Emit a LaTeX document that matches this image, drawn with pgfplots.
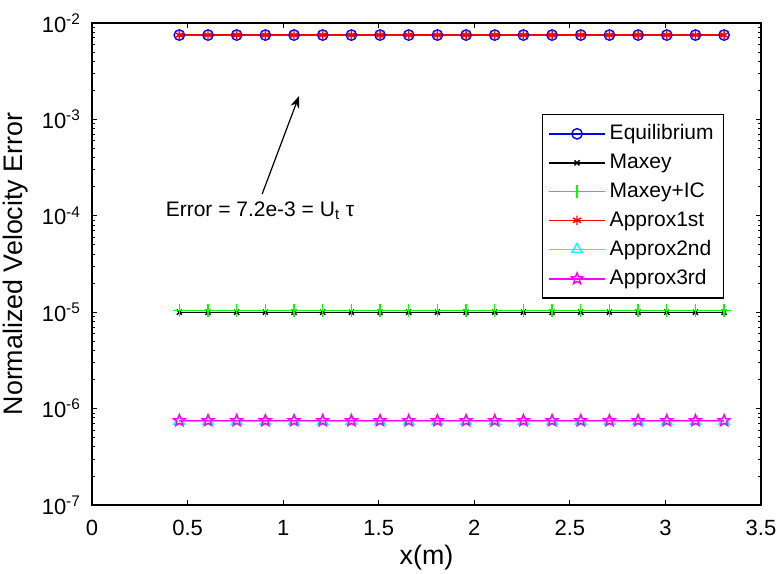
\documentclass[border=0pt]{standalone}
\usepackage{fontspec}
\setmainfont{Liberation Sans}
\usepackage{pgfplots}
\pgfplotsset{compat=1.18}
\usetikzlibrary{arrows.meta,plotmarks}

\definecolor{mblue}{rgb}{0,0,1}
\definecolor{mgreen}{rgb}{0,1,0}
\definecolor{mred}{rgb}{1,0,0}
\definecolor{mcyan}{rgb}{0,1,1}
\definecolor{mmagenta}{rgb}{1,0,1}

% outlined five-point star, like the MATLAB pentagram marker
\pgfdeclareplotmark{pentagram}{%
  \pgfpathmoveto{\pgfpointpolar{90}{\pgfplotmarksize}}%
  \pgfpathlineto{\pgfpointpolar{126}{0.42\pgfplotmarksize}}%
  \pgfpathlineto{\pgfpointpolar{162}{\pgfplotmarksize}}%
  \pgfpathlineto{\pgfpointpolar{198}{0.42\pgfplotmarksize}}%
  \pgfpathlineto{\pgfpointpolar{234}{\pgfplotmarksize}}%
  \pgfpathlineto{\pgfpointpolar{270}{0.42\pgfplotmarksize}}%
  \pgfpathlineto{\pgfpointpolar{306}{\pgfplotmarksize}}%
  \pgfpathlineto{\pgfpointpolar{342}{0.42\pgfplotmarksize}}%
  \pgfpathlineto{\pgfpointpolar{18}{\pgfplotmarksize}}%
  \pgfpathlineto{\pgfpointpolar{54}{0.42\pgfplotmarksize}}%
  \pgfpathclose
  \pgfusepathqstroke
}

\pgfplotstableread{
x      eq      mx      mxic    aone    atwo    athree
0.457  7.5e-3  1.0e-5  1.04e-5 7.5e-3  7.4e-7  7.5e-7
0.607  7.5e-3  1.0e-5  1.04e-5 7.5e-3  7.4e-7  7.5e-7
0.757  7.5e-3  1.0e-5  1.04e-5 7.5e-3  7.4e-7  7.5e-7
0.907  7.5e-3  1.0e-5  1.04e-5 7.5e-3  7.4e-7  7.5e-7
1.057  7.5e-3  1.0e-5  1.04e-5 7.5e-3  7.4e-7  7.5e-7
1.207  7.5e-3  1.0e-5  1.04e-5 7.5e-3  7.4e-7  7.5e-7
1.357  7.5e-3  1.0e-5  1.04e-5 7.5e-3  7.4e-7  7.5e-7
1.507  7.5e-3  1.0e-5  1.04e-5 7.5e-3  7.4e-7  7.5e-7
1.657  7.5e-3  1.0e-5  1.04e-5 7.5e-3  7.4e-7  7.5e-7
1.807  7.5e-3  1.0e-5  1.04e-5 7.5e-3  7.4e-7  7.5e-7
1.957  7.5e-3  1.0e-5  1.04e-5 7.5e-3  7.4e-7  7.5e-7
2.107  7.5e-3  1.0e-5  1.04e-5 7.5e-3  7.4e-7  7.5e-7
2.257  7.5e-3  1.0e-5  1.04e-5 7.5e-3  7.4e-7  7.5e-7
2.407  7.5e-3  1.0e-5  1.04e-5 7.5e-3  7.4e-7  7.5e-7
2.557  7.5e-3  1.0e-5  1.04e-5 7.5e-3  7.4e-7  7.5e-7
2.707  7.5e-3  1.0e-5  1.04e-5 7.5e-3  7.4e-7  7.5e-7
2.857  7.5e-3  1.0e-5  1.04e-5 7.5e-3  7.4e-7  7.5e-7
3.007  7.5e-3  1.0e-5  1.04e-5 7.5e-3  7.4e-7  7.5e-7
3.157  7.5e-3  1.0e-5  1.04e-5 7.5e-3  7.4e-7  7.5e-7
3.307  7.5e-3  1.0e-5  1.04e-5 7.5e-3  7.4e-7  7.5e-7
}\errdata

\begin{document}
\begin{tikzpicture}
\begin{semilogyaxis}[
  scale only axis,
  width=334.5pt, height=241pt,
  xmin=0, xmax=3.5, ymin=1e-7, ymax=1e-2,
  xtick={0,0.5,...,3.5},
  ytick={1e-7,1e-6,1e-5,1e-4,1e-3,1e-2},
  yticklabels={10\textsuperscript{-7},10\textsuperscript{-6},10\textsuperscript{-5},
    10\textsuperscript{-4},10\textsuperscript{-3},10\textsuperscript{-2}},
  /pgf/number format/assume math mode=true,
  tick label style={font=\fontsize{11}{13}\selectfont},
  xticklabel style={yshift=-4pt},
  yticklabel style={xshift=-2pt},
  major tick length=2.6pt,
  minor tick length=1.6pt,
  tick style={black, line width=0.5pt},
  axis line style={black, line width=0.6pt},
  xlabel={x(m)},
  ylabel={Normalized Velocity Error},
  label style={font=\fontsize{13.4}{15}\selectfont},
  xlabel style={yshift=2pt},
  every axis plot/.append style={line width=0.7pt},
  legend style={at={(0.945,0.811)}, anchor=north east, draw=black,
    line width=0.6pt, font=\fontsize{10.5}{12}\selectfont,
    row sep=1.6pt, inner xsep=3pt, inner ysep=3pt},
  legend cell align=left,
  legend image code/.code={
    \draw[mark repeat=2, mark phase=2, #1] plot coordinates {(0pt,0pt) (14pt,0pt) (28pt,0pt)};
  },
]
\addplot[mblue, mark=o, mark size=2.6pt] table[x=x, y=eq] {\errdata};
\addlegendentry{Equilibrium}
\addplot[black, mark=x, mark size=1.8pt] table[x=x, y=mx] {\errdata};
\addlegendentry{Maxey}
\addplot[mgreen, mark=+, mark size=3.2pt] table[x=x, y=mxic] {\errdata};
\addlegendentry{Maxey+IC}
\addplot[mred, mark=asterisk, mark size=2.4pt] table[x=x, y=aone] {\errdata};
\addlegendentry{Approx1st}
\addplot[mcyan, mark=triangle, mark size=3pt] table[x=x, y=atwo] {\errdata};
\addlegendentry{Approx2nd}
\addplot[mmagenta, mark=pentagram, mark size=3pt] table[x=x, y=athree] {\errdata};
\addlegendentry{Approx3rd}

% annotation with arrow
\draw[black, line width=0.6pt, -{Stealth[length=6pt, width=4.5pt]}]
  (axis cs:0.89,1.68e-4) -- (axis cs:1.083,1.75e-3);
\node[font=\fontsize{10.5}{12}\selectfont, inner sep=0pt]
  at (axis cs:0.879,1.12e-4) {Error = 7.2e-3 = U\textsubscript{t} τ};
\end{semilogyaxis}
\pgfresetboundingbox
\path[use as bounding box]
  ([xshift=-46pt,yshift=-34pt]current axis.south west) rectangle
  ([xshift=8.5pt,yshift=11.5pt]current axis.north east);
\end{tikzpicture}
\end{document}
